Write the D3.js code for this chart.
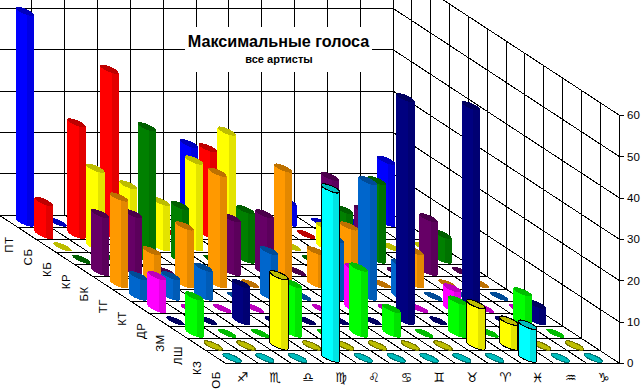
<!DOCTYPE html>
<html><head><meta charset="utf-8">
<script src="https://cdn.jsdelivr.net/npm/d3@7"></script>
<style>html,body{margin:0;padding:0;background:#fff;overflow:hidden}svg{display:block}</style>
</head><body><svg id="c" width="644" height="392"></svg>
<script>
// categories, front row first
const rowNames = ["ОБ","КЗ","ЛШ","ЗМ","ДР","КТ","ТГ","БК","КР","КБ","СБ","ПТ"];
const signs = ["♐","♏","♎","♍","♌","♋","♊","♉","♈","♓","♒","♑"];
const valueTicks = [0,10,20,30,40,50,60];

// series values per row, one value per zodiac sign (0 is drawn as a flat disc)
const OB = [0,0,0,41,0,0,0,0,0,8,0,0];
const KZ = [0,0,17,0,0,0,0,0,10,6,0,0];
const LSH = [9,0,0,12,0,16,6,0,8,0,10,0];
const ZM = [0,0,9,0,0,0,0,54,0,52,0,4];
const DR = [8,0,0,0,0,0,10,0,0,5,0,0];
const KT = [5,5,7,0,11,0,14,28,8,0,0,0];
const TG = [21,8,14,27,0,28,8,14,0,8,0,0];
const BK = [14,14,0,0,13,14,0,23,15,0,13,0];
const KR = [0,0,32,13,0,12,0,0,12,19,0,6];
const KB = [0,19,15,11,21,28,0,0,5,0,0,0];
const SB = [8,27,40,0,0,21,0,0,0,0,0,0];
const PT = [51,0,0,0,0,19,0,0,5,0,0,15];
const rowValues = [OB,KZ,LSH,ZM,DR,KT,TG,BK,KR,KB,SB,PT];

const rowColors = ["#00ffff","#ffff00","#00ff00","#000080","#ff00ff","#0066cc","#ff9900","#660066","#008000","#ffff00","#ff0000","#0000ff"];
const outlinedRows = ["ОБ","КЗ"];

const title = "Максимальные голоса";
const subtitle = "все артисты";

const svg = d3.select("#c");
const FLOOR_LEFT = 225, FLOOR_RIGHT = 619, DX = 226, DY = 148, MARK_DROP = 1;
const y = d3.scaleLinear().domain([0,60]).range([363,115]);
const col = d3.scaleBand().domain(signs).range([FLOOR_LEFT,FLOOR_RIGHT]);
const depth = d3.scaleBand().domain(rowNames).range([0,1]);
const depthEdge = d3.scaleLinear().domain([0,12]).range([0,1]);

function project(sign,row,v){
  const d = depth(row)+depth.bandwidth()/2;
  return [col(sign)+col.bandwidth()/2-DX*d, y(v)-DY*d+MARK_DROP];
}
const RX=9.9, RY=2.7, ROT=23;
const phi=ROT*Math.PI/180;
const W=Math.sqrt(RX*RX*Math.cos(phi)**2+RY*RY*Math.sin(phi)**2);
const YE=(RX*RX-RY*RY)*Math.sin(phi)*Math.cos(phi)/W;

const defs = svg.append("defs");
rowNames.forEach((r,i)=>{
  const base=d3.rgb(rowColors[i]);
  const g=defs.append("linearGradient").attr("id","g"+i).attr("x1",0).attr("x2",1).attr("y1",0).attr("y2",0);
  const shade=k=>d3.rgb(base.r*k,base.g*k,base.b*k).formatHex();
  [[0,1],[.62,1],[.62,.89],[1,.89]].forEach(s=>g.append("stop").attr("offset",s[0]).attr("stop-color",shade(s[1])));
});

const grid = svg.append("g").attr("stroke","#000").attr("stroke-width",1).attr("shape-rendering","crispEdges").attr("fill","none");
const line=(a,b,c,d)=>grid.append("line").attr("x1",a).attr("y1",b).attr("x2",c).attr("y2",d);
const backY=v=>y(v)-DY;
// back wall
valueTicks.forEach(v=>{
  line(FLOOR_LEFT-DX,backY(v),FLOOR_RIGHT-DX,backY(v));
  line(FLOOR_RIGHT-DX,backY(v),FLOOR_RIGHT,y(v));
});
signs.forEach((s,i)=>{ const x=col(s)-DX; line(x,backY(0),x,backY(60)); });
line(FLOOR_RIGHT-DX,backY(0),FLOOR_RIGHT-DX,backY(60));
// right wall
d3.range(0,13).forEach(k=>{
  const d=depthEdge(k);
  line(FLOOR_RIGHT-DX*d,y(0)-DY*d,FLOOR_RIGHT-DX*d,y(60)-DY*d);
  line(FLOOR_LEFT-DX*d,y(0)-DY*d,FLOOR_RIGHT-DX*d,y(0)-DY*d);
});
// floor
signs.concat([null]).forEach((s,i)=>{
  const x=s?col(s):FLOOR_RIGHT;
  line(x,y(0),x-DX,y(0)-DY);
});

// title plate
svg.append("rect").attr("x",185).attr("y",27).attr("width",187).attr("height",45).attr("fill","#fff");
svg.append("text").attr("x",278.5).attr("y",47).attr("text-anchor","middle")
  .attr("font-family","Liberation Sans").attr("font-weight","bold").attr("font-size",16.2).text(title);
svg.append("text").attr("x",279).attr("y",63).attr("text-anchor","middle")
  .attr("font-family","Liberation Sans").attr("font-weight","bold").attr("font-size",11).text(subtitle);

// columns, back to front
const marks = svg.append("g").attr("shape-rendering","crispEdges");
rowNames.map((r,i)=>i).reverse().forEach(i=>{
  const r=rowNames[i], base=d3.rgb(rowColors[i]);
  const cap=d3.rgb(base.r*.74,base.g*.74,base.b*.74).formatHex();
  const rim=d3.rgb(base.r*.45,base.g*.45,base.b*.45).formatHex();
  const outlined=outlinedRows.includes(r);
  const cells=signs.map((s,k)=>({s,v:rowValues[i][k]}));
  const sel=marks.append("g").selectAll("g").data(cells).join("g");
  sel.filter(d=>d.v>0).append("path")
    .attr("d",d=>{
      const [x,yb]=project(d.s,r,0), yt=project(d.s,r,d.v)[1];
      return `M${x-W},${yt-YE}L${x-W},${yb-YE}A${RX},${RY} ${ROT} 0 0 ${x+W},${yb+YE}L${x+W},${yt+YE}Z`;
    })
    .attr("fill",`url(#g${i})`)
    .attr("stroke",outlined?"#000":"none");
  sel.append("ellipse")
    .attr("rx",RX).attr("ry",RY)
    .attr("transform",d=>{const p=project(d.s,r,d.v);return `translate(${p[0]},${p[1]}) rotate(${ROT})`;})
    .attr("fill",cap)
    .attr("stroke",d=>!outlined?"none":(d.v>0?"#000":rim));
});

// value axis
const ax=svg.append("g").attr("transform",`translate(${FLOOR_RIGHT},0)`)
  .call(d3.axisRight(y).tickValues(valueTicks).tickSize(5).tickPadding(3).tickSizeOuter(0));
ax.selectAll("path,line").attr("stroke","#000").attr("shape-rendering","crispEdges");
ax.selectAll("text").attr("font-family","Liberation Sans").attr("font-size",11.5).attr("fill","#000");

// depth labels
svg.append("g").selectAll("text").data(rowNames).join("text")
  .attr("transform",(d,i)=>`translate(${220-18.8*i},${380-12.3*i}) rotate(-90)`)
  .attr("text-anchor","middle").attr("font-family","Liberation Sans").attr("font-size",11.5).attr("letter-spacing",.5).text(d=>d);

// sign labels
svg.append("g").selectAll("text").data(signs).join("text")
  .attr("x",d=>col(d)+col.bandwidth()/2+1).attr("y",382)
  .attr("text-anchor","middle").attr("font-family","DejaVu Sans").attr("font-size",13).text(d=>d);
</script></body></html>
